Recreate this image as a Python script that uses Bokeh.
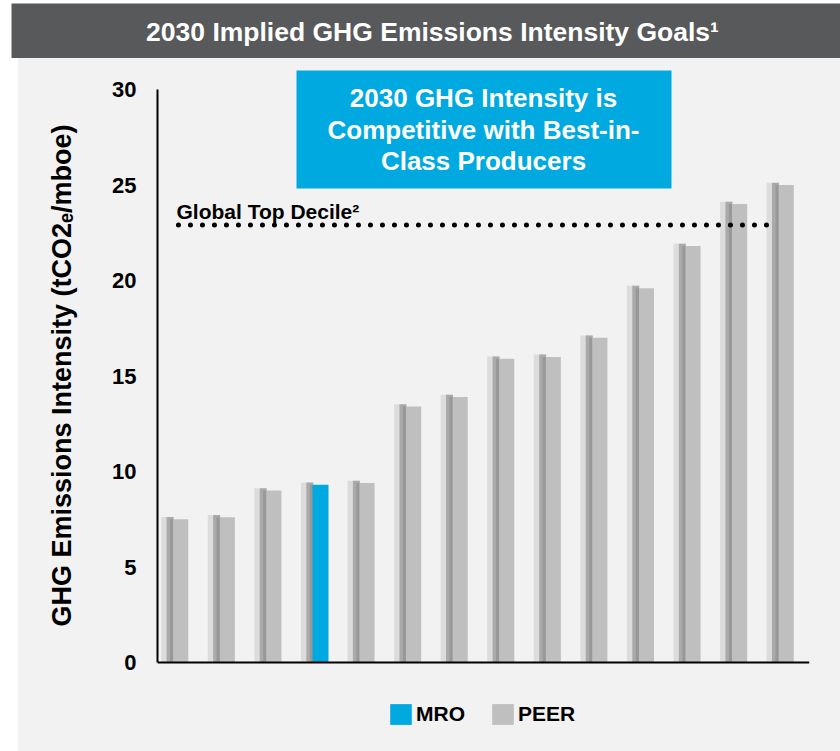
import math
import pandas as pd
from bokeh.plotting import figure
from bokeh.models import (ColumnDataSource, FixedTicker, BoxAnnotation, Range1d,
                          Label, Legend, LegendItem, Spacer)
from bokeh.layouts import column, row
from bokeh.transform import dodge
from bokeh.embed import file_html
from bokeh.resources import INLINE

# ---------------- data ----------------
companies = ["Peer A", "Peer B", "Peer C", "MRO", "Peer D", "Peer E", "Peer F",
             "Peer G", "Peer H", "Peer I", "Peer J", "Peer K", "Peer L", "Peer M"]
intensity = [7.5, 7.6, 9.0, 9.3, 9.4, 13.4, 13.9, 15.9, 16.0, 17.0, 19.6, 21.8, 24.0, 25.0]
groups = ["PEER", "PEER", "PEER", "MRO", "PEER", "PEER", "PEER",
          "PEER", "PEER", "PEER", "PEER", "PEER", "PEER", "PEER"]
top_decile = 22.9
y_ticks = [0, 5, 10, 15, 20, 25, 30]
y_axis_max = 30

title_text = "2030 Implied GHG Emissions Intensity Goals\u00b9"
y_label = "GHG Emissions Intensity (tCO2\u2091/mboe)"
callout_lines = ["2030 GHG Intensity is", "Competitive with Best-in-", "Class Producers"]
decile_label = "Global Top Decile\u00b2"

# ---------------- styling / geometry ----------------
FONT = "Liberation Sans"
BLUE = "#00a9e0"
PEER_GRAY = "#bfbfbf"
PANEL = "#f2f2f2"
TITLE_BG = "#58595b"

LABEL_COL = 80            # width of the column holding the vertical axis title
FRAME_LEFT = 157          # page x of y axis
FRAME_RIGHT = 809         # page x where x axis ends
FRAME_TOP = 58            # page y of chart frame top
FRAME_BOTTOM = 747        # page y of chart frame bottom
ZERO_PIX = 662            # page y of value 0
Y30_PIX = 89              # page y of value 30
PPU = (ZERO_PIX - Y30_PIX) / y_axis_max
BASE_FIX = 8.5            # baseline correction for labels


def sx(px):
    return px - FRAME_LEFT


def sy(py):
    return FRAME_BOTTOM - py + BASE_FIX


y_start = -(FRAME_BOTTOM - ZERO_PIX) / PPU
y_end = (ZERO_PIX - FRAME_TOP) / PPU

df = pd.DataFrame(dict(company=companies, intensity=intensity, group=groups))
df["pos"] = [i + 0.5 for i in range(len(companies))]
df["shadow_top"] = df["intensity"] + 0.12
src_all = ColumnDataSource(df)
src_peer = ColumnDataSource(df[df.group == "PEER"])
src_mro = ColumnDataSource(df[df.group == "MRO"])


def blank_fig(w, h, bg):
    f = figure(width=w, height=h, x_range=(0, 1), y_range=(0, 1),
               output_backend="svg", toolbar_location=None,
               x_axis_location=None, y_axis_location=None,
               min_border=0, min_border_left=0, min_border_right=0,
               min_border_top=0, min_border_bottom=0,
               background_fill_color=bg, border_fill_color=bg,
               outline_line_color=None)
    f.xgrid.grid_line_color = None
    f.ygrid.grid_line_color = None
    return f


# ---------------- title bar ----------------
t = blank_fig(829, 55, TITLE_BG)
t.add_layout(Label(x=421, y=18 + 9, x_units="screen", y_units="screen",
                   text=title_text, text_align="center", text_baseline="alphabetic",
                   text_color="white", text_font=FONT, text_font_size="26.5px",
                   text_font_style="bold"))

# ---------------- vertical axis title ----------------
lab = blank_fig(LABEL_COL, FRAME_BOTTOM - FRAME_TOP + 4, PANEL)
lab.add_layout(Label(x=70 - 18 - BASE_FIX, y=(FRAME_BOTTOM + 4) - 375,
                     x_units="screen", y_units="screen", angle=math.pi / 2,
                     text=y_label, text_align="center", text_baseline="alphabetic",
                     text_color="black", text_font=FONT, text_font_size="27px",
                     text_font_style="bold"))

# ---------------- chart ----------------
p = figure(frame_width=FRAME_RIGHT - FRAME_LEFT, frame_height=FRAME_BOTTOM - FRAME_TOP,
           x_range=Range1d(0, len(companies)),
           y_range=Range1d(y_start, y_end),
           output_backend="svg", toolbar_location=None,
           min_border=0, min_border_left=FRAME_LEFT - 18 - LABEL_COL,
           min_border_right=31, min_border_top=0, min_border_bottom=0,
           background_fill_color=PANEL, border_fill_color=PANEL,
           outline_line_color=None)

# callout box
p.add_layout(BoxAnnotation(left=sx(296), right=sx(671),
                           bottom=FRAME_BOTTOM - 188, top=FRAME_BOTTOM - 70,
                           left_units="screen", right_units="screen",
                           bottom_units="screen", top_units="screen",
                           fill_color=BLUE, fill_alpha=1, line_color=None,
                           level="underlay"))

# bar shadows (soft drop shadow on the left side)
p.vbar(x=dodge("pos", -0.29, range=p.x_range), top="shadow_top", width=0.26,
       source=src_all, fill_color="#dcdcdc", line_color=None)
p.vbar(x=dodge("pos", -0.23, range=p.x_range), top="shadow_top", width=0.15,
       source=src_all, fill_color="#aaaaaa", line_color=None)
p.vbar(x=dodge("pos", -0.195, range=p.x_range), top="intensity", width=0.07,
       source=src_all, fill_color="#989898", line_color=None)

# bars
r_peer = p.vbar(x="pos", top="intensity", width=0.322, source=src_peer,
                fill_color=PEER_GRAY, line_color=None)
r_mro = p.vbar(x="pos", top="intensity", width=0.343, source=src_mro,
               fill_color=BLUE, line_color=None)

# dotted global top decile line
line_src = ColumnDataSource(dict(x0=[df["pos"].iloc[0]], x1=[df["pos"].iloc[-1]],
                                 y=[top_decile]))
p.segment(x0=dodge("x0", -0.05, range=p.x_range), y0="y",
          x1=dodge("x1", -0.19, range=p.x_range), y1="y", source=line_src,
          line_color="black", line_width=5, line_dash="0 12", line_cap="round")

# axes
p.xgrid.grid_line_color = None
p.ygrid.grid_line_color = None
p.yaxis.ticker = FixedTicker(ticks=y_ticks)
p.yaxis.bounds = (0, y_axis_max)
p.yaxis.major_label_text_font = FONT
p.yaxis.major_label_text_font_size = "22px"
p.yaxis.major_label_text_font_style = "bold"
p.yaxis.major_label_text_color = "black"
p.yaxis.major_label_standoff = 21
p.yaxis.major_tick_line_color = None
p.yaxis.major_tick_out = 0
p.yaxis.major_tick_in = 0
p.yaxis.minor_tick_line_color = None
p.yaxis.axis_line_width = 2
p.yaxis.axis_line_color = "black"

p.xaxis.fixed_location = 0
p.xaxis.ticker = FixedTicker(ticks=[])
p.xaxis.major_tick_line_color = None
p.xaxis.major_tick_out = 0
p.xaxis.major_tick_in = 0
p.xaxis.minor_tick_line_color = None
p.xaxis.major_label_standoff = 0
p.xaxis.axis_line_width = 2
p.xaxis.axis_line_color = "black"

# texts
for line, base in zip(callout_lines, [106, 138, 169]):
    p.add_layout(Label(x=sx(483), y=sy(base), x_units="screen", y_units="screen",
                       text=line, text_align="center", text_baseline="alphabetic",
                       text_color="white", text_font=FONT, text_font_size="26px",
                       text_font_style="bold"))
p.add_layout(Label(x=sx(176), y=sy(219), x_units="screen", y_units="screen",
                   text=decile_label, text_align="left", text_baseline="alphabetic",
                   text_color="black", text_font=FONT, text_font_size="21px",
                   text_font_style="bold"))

# legend (inside the frame, below the baseline)
legend = Legend(items=[LegendItem(label="MRO", renderers=[r_mro]),
                       LegendItem(label="PEER", renderers=[r_peer])],
                orientation="horizontal", location=(sx(387), FRAME_BOTTOM - 727),
                glyph_width=27, glyph_height=26, label_standoff=2, spacing=24,
                padding=0, margin=0, border_line_color=None,
                background_fill_alpha=0,
                label_text_font=FONT, label_text_font_size="21px",
                label_text_font_style="bold", label_text_color="black")
p.add_layout(legend)

layout = column(Spacer(width=840, height=3),
                row(Spacer(width=11, height=55), t),
                row(Spacer(width=18, height=FRAME_BOTTOM - FRAME_TOP + 4,
                           styles={"background-color": "white"}),
                    lab, p, styles={"background-color": PANEL}),
                spacing=0)

open("out.html", "w").write(file_html(layout, INLINE))
